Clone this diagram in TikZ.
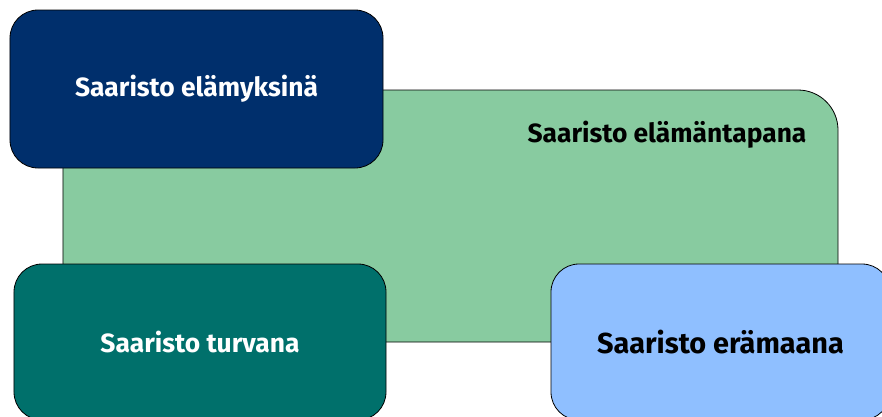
\documentclass[tikz,border=0pt]{standalone}
\usepackage{fontspec}
\setmainfont{Fira Sans}
\definecolor{kNavy}{HTML}{002F6C}
\definecolor{kTeal}{HTML}{00706B}
\definecolor{kGreen}{HTML}{88CBA0}
\definecolor{kBlue}{HTML}{8FBFFF}
\tikzset{
  kbox/.style={draw=black,line width=0.8bp,rounded corners=28bp,inner sep=0pt,outer sep=0pt},
  klab/.style={font=\fontsize{26.5}{30}\selectfont\bfseries}
}
\begin{document}
\begin{tikzpicture}[x=1bp,y=-1bp]
\pgfmathsetmacro{\kbw}{373}
\pgfmathsetmacro{\kbh}{156}
\useasboundingbox (0,0) rectangle (882,416);
\clip (0,0) rectangle (882,416);
% background box
\node[kbox,fill=kGreen,rounded corners=40bp,minimum width=775bp,minimum height=252bp](elama) at (450.5,216){};
\node[klab,anchor=center](elamalb) at (667,135){Saaristo elämäntapana};
% corner boxes
\node[kbox,fill=kNavy,text=white,klab,minimum width=\kbw bp,minimum height=158bp](elamys) at (196.5,89){Saaristo elämyksinä};
\node[kbox,fill=kTeal,text=white,klab,minimum width=372bp,minimum height=\kbh bp](turva) at (200,342){Saaristo turvana};
\node[kbox,fill=kBlue,klab,font=\fontsize{29}{33}\selectfont\bfseries,minimum width=339bp,minimum height=\kbh bp](erama) at (720.5,342){Saaristo erämaana};
\end{tikzpicture}
\end{document}
